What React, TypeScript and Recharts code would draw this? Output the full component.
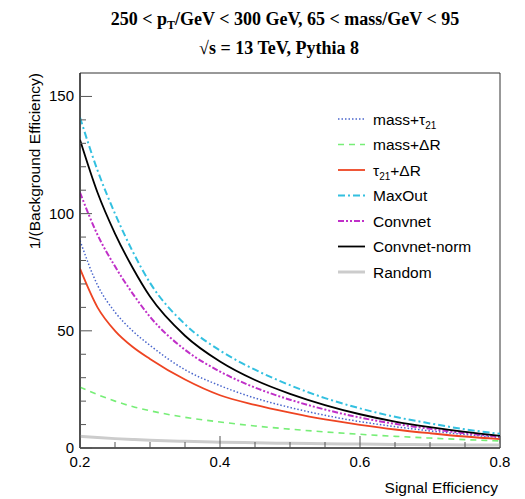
import React from 'react';
import { LineChart, Line, XAxis, YAxis, ReferenceArea } from 'recharts';

const signalEff = [0.2, 0.225, 0.25, 0.275, 0.3, 0.35, 0.4, 0.45, 0.5, 0.55, 0.6, 0.65, 0.7, 0.75, 0.8];
const massTau21 = [88.5, 69.5, 58, 50, 43.8, 33.4, 26.6, 21.3, 17.3, 13.95, 11.25, 9.1, 7.3, 5.75, 4.5];
const massDR = [26, 22.8, 20, 17.7, 15.9, 13.1, 11.1, 9.4, 8.05, 6.86, 5.85, 4.98, 4.24, 3.58, 3.0];
const tau21DR = [76.5, 60, 50, 43.2, 38, 29.2, 22.5, 18.4, 15.1, 12.2, 9.9, 7.9, 6.3, 4.9, 3.8];
const maxOut = [141, 118.5, 100, 84, 70.5, 52.8, 41.6, 33.4, 26.8, 21.3, 16.9, 13.3, 10.5, 7.97, 6.05];
const convnet = [109, 91, 77.5, 66, 56, 41.9, 32.6, 25.8, 20.6, 16.4, 13.0, 10.3, 8.2, 6.3, 4.8];
const convnetNorm = [131.5, 109, 91.5, 77, 64.6, 47.9, 36.9, 29.0, 23.1, 18.3, 14.4, 11.3, 8.9, 6.86, 5.2];
const random = [5, 4.44, 4, 3.64, 3.33, 2.86, 2.5, 2.22, 2, 1.82, 1.67, 1.54, 1.43, 1.33, 1.25];

const xTicks = [0.2, 0.25, 0.3, 0.35, 0.4, 0.45, 0.5, 0.55, 0.6, 0.65, 0.7, 0.75, 0.8];
const xMajorTicks = [0.2, 0.4, 0.6, 0.8];
const yTicks = [0, 10, 20, 30, 40, 50, 60, 70, 80, 90, 100, 110, 120, 130, 140, 150];
const yMajorTicks = [0, 50, 100, 150];

const SERIES = [
  { key: 'massTau21', name: 'mass+τ21', color: '#4a66cc', width: 1.5, dash: '1.5 2' },
  { key: 'massDR', name: 'mass+ΔR', color: '#77ee77', width: 1.6, dash: '6 5' },
  { key: 'tau21DR', name: 'τ21+ΔR', color: '#ee4422', width: 1.8, dash: undefined },
  { key: 'maxOut', name: 'MaxOut', color: '#33c0e0', width: 2, dash: '7 3 2 3' },
  { key: 'convnet', name: 'Convnet', color: '#c030c8', width: 2, dash: '6 2 2 2 2 2' },
  { key: 'convnetNorm', name: 'Convnet-norm', color: '#000000', width: 1.8, dash: undefined },
  { key: 'random', name: 'Random', color: '#cccccc', width: 3, dash: undefined },
];

const data = signalEff.map((x, i) => ({
  x,
  massTau21: massTau21[i],
  massDR: massDR[i],
  tau21DR: tau21DR[i],
  maxOut: maxOut[i],
  convnet: convnet[i],
  convnetNorm: convnetNorm[i],
  random: random[i],
}));

const SANS = '"Liberation Sans", Arial, Helvetica, sans-serif';
const SERIF = '"Liberation Serif", "Times New Roman", serif';
const TICK_COLOR = '#555';
const GAP = 6;

const YTick = (props: any) => {
  const { x, y, payload } = props;
  const major = yMajorTicks.includes(payload.value);
  const ax = x + GAP;
  return (
    <g>
      <line x1={ax} x2={ax + (major ? 12 : 6)} y1={y} y2={y} stroke={TICK_COLOR} strokeWidth={1} />
      {major && (
        <text x={x} y={y} dy={5} textAnchor="end" fontSize={15} fontFamily={SANS} fill="#000">
          {payload.value}
        </text>
      )}
    </g>
  );
};

const XTick = (props: any) => {
  const { x, y, payload } = props;
  const major = xMajorTicks.some((m) => Math.abs(m - payload.value) < 1e-9);
  const ay = y - GAP;
  return (
    <g>
      <line x1={x} x2={x} y1={ay} y2={ay - (major ? 12 : 6)} stroke={TICK_COLOR} strokeWidth={1} />
      {major && (
        <text x={x} y={y} dy={13} textAnchor="middle" fontSize={15} fontFamily={SANS} fill="#000">
          {payload.value.toFixed(1)}
        </text>
      )}
    </g>
  );
};

const renderName = (name: string) => {
  const parts = name.split('21');
  if (parts.length === 1) return name;
  return (
    <>
      {parts[0]}
      <tspan dy={4} fontSize={10}>21</tspan>
      <tspan dy={-4}>{parts[1]}</tspan>
    </>
  );
};

export default function App() {
  return (
    <div style={{ position: 'absolute', left: 0, top: 0, width: 525, height: 499, background: '#fff' }}>
      <LineChart
        width={525}
        height={499}
        data={data}
        margin={{ top: 73, right: 25, bottom: 0, left: 0 }}
      >
        <XAxis
          dataKey="x"
          type="number"
          domain={[0.2, 0.8]}
          ticks={xTicks}
          interval={0}
          height={51}
          tickSize={0}
          tickMargin={GAP}
          tickLine={false}
          axisLine={{ stroke: '#222', strokeWidth: 1.2 }}
          tick={<XTick />}
          allowDataOverflow
        />
        <YAxis
          type="number"
          domain={[0, 160]}
          ticks={yTicks}
          interval={0}
          width={80}
          tickSize={0}
          tickMargin={GAP}
          tickLine={false}
          axisLine={{ stroke: '#222', strokeWidth: 1.2 }}
          tick={<YTick />}
          allowDataOverflow
        />
        <ReferenceArea x1={0.2} x2={0.8} y1={0} y2={160} fill="none" stroke="#333" strokeWidth={1} />
        {SERIES.map((s) => (
          <Line
            key={s.key}
            dataKey={s.key}
            name={s.name}
            type="monotone"
            stroke={s.color}
            strokeWidth={s.width}
            strokeDasharray={s.dash}
            dot={false}
            activeDot={false}
            isAnimationActive={false}
          />
        ))}
      </LineChart>
      <svg
        width={525}
        height={499}
        style={{ position: 'absolute', left: 0, top: 0, pointerEvents: 'none' }}
      >
        <text x={285} y={25} textAnchor="middle" fontSize={18} fontWeight="bold" fontFamily={SERIF}>
          250 &lt; p<tspan dy={4} fontSize={12}>T</tspan>
          <tspan dy={-4}>/GeV &lt; 300 GeV, 65 &lt; mass/GeV &lt; 95</tspan>
        </text>
        <text x={279} y={54} textAnchor="middle" fontSize={18} fontWeight="bold" fontFamily={SERIF}>
          √s = 13 TeV, Pythia 8
        </text>
        <text x={498} y={493} textAnchor="end" fontSize={15.5} fontFamily={SANS}>
          Signal Efficiency
        </text>
        <text
          transform="translate(40,73) rotate(-90)"
          textAnchor="end"
          fontSize={15.5}
          fontFamily={SANS}
        >
          1/(Background Efficiency)
        </text>
        {SERIES.map((s, i) => {
          const cy = 119 + i * 25.5;
          return (
            <g key={s.key}>
              <line
                x1={338}
                x2={365}
                y1={cy}
                y2={cy}
                stroke={s.color}
                strokeWidth={s.width}
                strokeDasharray={s.dash}
              />
              <text x={373} y={cy + 5.5} fontSize={15.5} fontFamily={SANS}>
                {renderName(s.name)}
              </text>
            </g>
          );
        })}
      </svg>
    </div>
  );
}
